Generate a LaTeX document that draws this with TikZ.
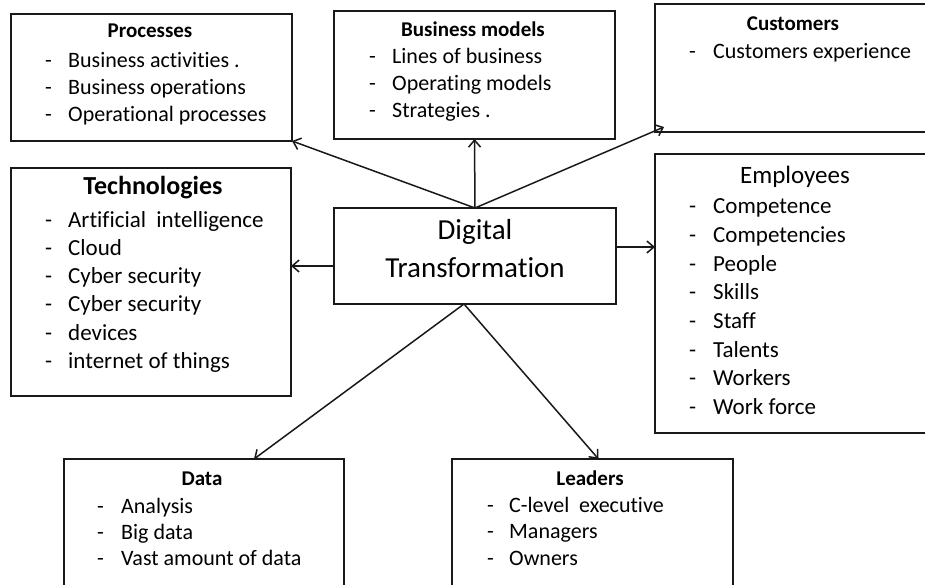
\documentclass[tikz,border=0pt]{standalone}
\usepackage{fontspec}
\setmainfont{Carlito}[Ligatures={NoCommon}]
\usetikzlibrary{arrows.meta}
\begin{document}
\begin{tikzpicture}[x=1pt,y=-1pt,
 box/.style={draw=black!90, line width=1.6pt, anchor=north west, inner sep=0pt, outer sep=0pt},
 ttl/.style={anchor=base, inner sep=0pt, font=\bfseries\fontsize{21}{25}\selectfont},
 lst/.style={anchor=base west, inner sep=0pt},
 arr/.style={draw=black!90, line width=1.5pt, -{Straight Barb[length=7pt,width=12pt]}}]
\clip (0,0) rectangle (925,585);
\fill[white] (0,0) rectangle (925,585);
% boxes
\node[box, minimum width=281pt, minimum height=127pt] (proc) at (11,14) {};
\node[box, minimum width=281pt, minimum height=128pt] (bm) at (334,11) {};
\node[box, minimum width=300pt, minimum height=128pt] (cust) at (655,4) {};
\node[box, minimum width=280pt, minimum height=228pt] (tech) at (11,168) {};
\node[box, minimum width=282pt, minimum height=96pt] (dt) at (334,208) {};
\node[box, minimum width=300pt, minimum height=279pt] (emp) at (655,154) {};
\node[box, minimum width=280pt, minimum height=150pt] (data) at (64,459) {};
\node[box, minimum width=281pt, minimum height=150pt] (lead) at (452,459) {};
% titles
\node[ttl] (proct) at (150,38) {Processes};
\node[ttl] (bmt) at (473,37) {Business models};
\node[ttl] (custt) at (793,31) {Customers};
\node[ttl, font=\bfseries\fontsize{26}{30}\selectfont] (techt) at (153,195) {Technologies};
\node[ttl, font=\fontsize{25}{30}\selectfont] (empt) at (795,184) {Employees};
\node[ttl] (datat) at (202,485) {Data};
\node[ttl] (leadt) at (590,485) {Leaders};
\node[anchor=base, inner sep=0pt, font=\fontsize{29}{37}\selectfont] (dtt) at (475,240)
  {\begin{tabular}[t]{@{}c@{}}Digital\\Transformation\end{tabular}};
% lists
\node[lst, font=\fontsize{22}{27}\selectfont] (proci) at (45,68)
  {\begin{tabular}[t]{@{}p{23pt}@{}l@{}}-&Business activities .\\-&Business operations\\-&Operational processes\end{tabular}};
\node[lst, font=\fontsize{22}{27}\selectfont] (bmi) at (369,64)
  {\begin{tabular}[t]{@{}p{23pt}@{}l@{}}-&Lines of business\\-&Operating models\\-&Strategies .\end{tabular}};
\node[lst, font=\fontsize{22}{27}\selectfont] (custi) at (689,59)
  {\begin{tabular}[t]{@{}p{24pt}@{}l@{}}-&Customers experience\end{tabular}};
\node[lst, font=\fontsize{23}{28.3}\selectfont] (techi) at (45,227)
  {\begin{tabular}[t]{@{}p{23pt}@{}l@{}}-&Artificial\ \ intelligence\\-&Cloud\\-&Cyber security\\-&Cyber security\\-&devices\\-&internet of things\end{tabular}};
\node[lst, font=\fontsize{23}{28.6}\selectfont] (empi) at (689,214)
  {\begin{tabular}[t]{@{}p{24pt}@{}l@{}}-&Competence\\-&Competencies\\-&People\\-&Skills\\-&Staff\\-&Talents\\-&Workers\\-&Work force\end{tabular}};
\node[lst, font=\fontsize{22}{26.2}\selectfont] (datai) at (97,513)
  {\begin{tabular}[t]{@{}p{24pt}@{}l@{}}-&Analysis\\-&Big data\\-&Vast amount of data\end{tabular}};
\node[lst, font=\fontsize{22}{26.5}\selectfont] (leadi) at (487,512)
  {\begin{tabular}[t]{@{}p{22pt}@{}l@{}}-&C-level\ \ executive\\-&Managers\\-&Owners\end{tabular}};
% connectors
\coordinate (custtip) at (664,127);
\draw[arr] (dt.north) -- (proc.south east);
\draw[arr] (dt.north) -- (bm.south);
\draw[arr] (dt.north) -- (custtip);
\draw[arr] ([yshift=-10pt]dt.west) -- ([yshift=-10pt]dt.west -| tech.east);
\draw[arr] ([yshift=9pt]dt.east) -- ([yshift=9pt]dt.east -| emp.west);
\draw[arr] ([xshift=-11pt]dt.south) -- ([xshift=50pt]data.north);
\draw[arr] ([xshift=-11pt]dt.south) -- ([xshift=6pt]lead.north);
\end{tikzpicture}
\end{document}
